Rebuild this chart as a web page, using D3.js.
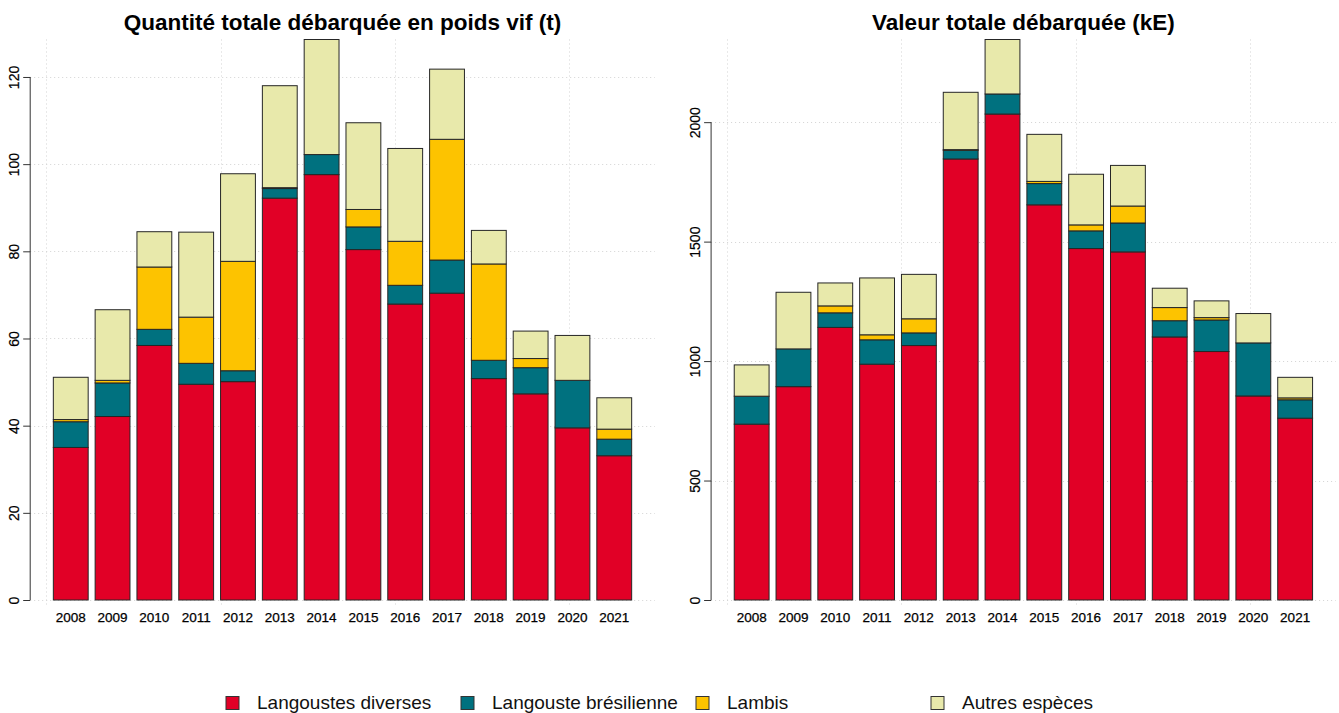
<!DOCTYPE html>
<html>
<head>
<meta charset="utf-8">
<script src="https://cdn.jsdelivr.net/npm/d3@7"></script>
<style>
  body { margin: 0; background: #fff; }
  svg { font-family: Arial, "Liberation Sans", sans-serif; }
</style>
</head>
<body>
<svg id="chart" width="1339" height="713"></svg>
<script>
// years on the x axis
const years = [2008, 2009, 2010, 2011, 2012, 2013, 2014, 2015, 2016, 2017, 2018, 2019, 2020, 2021];

// species (legend order = stacking order, bottom to top)
const species = ["Langoustes diverses", "Langouste brésilienne", "Lambis", "Autres espèces"];
const speciesColors = ["#E10026", "#00717F", "#FDC300", "#E8E9AB"];

// quantity landed, live weight (t)
const qtyLangoustes = [35.0, 42.1, 58.4, 49.5, 50.1, 92.2, 97.6, 80.4, 67.9, 70.4, 50.8, 47.3, 39.5, 33.1];
const qtyBresil     = [5.9, 7.7, 3.7, 4.8, 2.5, 2.2, 4.6, 5.2, 4.3, 7.6, 4.2, 6.0, 10.9, 3.8];
const qtyLambis     = [0.5, 0.6, 14.3, 10.6, 25.1, 0.2, 0, 4.0, 10.1, 27.7, 22.1, 2.1, 0, 2.3];
const qtyAutres     = [9.7, 16.2, 8.1, 19.5, 20.1, 23.4, 26.4, 19.9, 21.3, 16.1, 7.7, 6.3, 10.3, 7.2];

// value landed (kE)
const valLangoustes = [736, 893, 1141, 987, 1065, 1846, 2034, 1654, 1471, 1457, 1101, 1040, 854, 761];
const valBresil     = [117, 158, 61, 102, 53, 36, 84, 89, 74, 121, 68, 132, 222, 77];
const valLambis     = [0, 0, 29, 21, 59, 3, 0, 9, 25, 71, 55, 10, 0, 8];
const valAutres     = [131, 237, 96, 238, 186, 240, 228, 197, 212, 170, 81, 70, 123, 86];

// tick values
const qtyTicks = [0, 20, 40, 60, 80, 100, 120];
const valTicks = [0, 500, 1000, 1500, 2000];

const svg = d3.select("#chart");

function buildRows(series) {
  return years.map((y, i) => {
    const row = { year: y };
    species.forEach((s, k) => { row[s] = series[k][i]; });
    return row;
  });
}

function drawPanel(left, title, series, ticks) {
  const plotW = 624.6;
  const top = 39.5, zeroY = 600;

  const rows = buildRows(series);
  const stacked = d3.stack().keys(species)(rows);
  const maxTotal = d3.max(rows, r => d3.sum(species, s => r[s]));

  // barplot user units: bar i covers [0.2 + 1.2i, 1.2 + 1.2i]
  const x = d3.scaleLinear().domain([-0.464, 17.464]).range([left, left + plotW]);
  const y = d3.scaleLinear().domain([0, maxTotal]).range([zeroY, top]);

  const g = svg.append("g");

  // grid
  const grid = g.append("g")
    .attr("stroke", "#d3d3d3")
    .attr("stroke-width", 1)
    .attr("stroke-dasharray", "1,3");
  grid.selectAll("line.h")
    .data(ticks)
    .enter().append("line")
    .attr("x1", left).attr("x2", left + plotW)
    .attr("y1", d => Math.round(y(d)) + 0.5)
    .attr("y2", d => Math.round(y(d)) + 0.5);
  grid.selectAll("line.v")
    .data([0, 5, 10, 15])
    .enter().append("line")
    .attr("x1", d => Math.round(x(d)) + 0.5)
    .attr("x2", d => Math.round(x(d)) + 0.5)
    .attr("y1", top).attr("y2", 605);

  // stacked bars
  g.selectAll("g.layer")
    .data(stacked)
    .enter().append("g")
    .attr("fill", (d, k) => speciesColors[k])
    .selectAll("rect")
    .data(d => d)
    .enter().append("rect")
    .attr("x", (d, i) => x(0.2 + 1.2 * i))
    .attr("width", (d, i) => x(1.2 + 1.2 * i) - x(0.2 + 1.2 * i))
    .attr("y", d => y(d[1]))
    .attr("height", d => y(d[0]) - y(d[1]))
    .attr("stroke", "#262626")
    .attr("stroke-width", 1);

  // y axis
  const yAxis = g.append("g")
    .attr("transform", `translate(${left},0)`)
    .call(d3.axisLeft(y).tickValues(ticks).tickSize(7).tickFormat(d3.format("d")));
  yAxis.select(".domain").remove();
  yAxis.append("line")
    .attr("x1", 0).attr("x2", 0)
    .attr("y1", y(0)).attr("y2", y(ticks[ticks.length - 1]))
    .attr("stroke", "#333");
  yAxis.selectAll(".tick line").attr("stroke", "#333");
  yAxis.selectAll(".tick text")
    .attr("x", null).attr("dy", null)
    .attr("transform", "translate(-11,0) rotate(-90)")
    .attr("text-anchor", "middle")
    .style("font-size", "14px")
    .style("font-family", "Arial, 'Liberation Sans', sans-serif")
    .attr("fill", "#000")
    .attr("stroke", "#000")
    .attr("stroke-width", 0.2);

  // year labels
  g.selectAll("text.year")
    .data(years)
    .enter().append("text")
    .attr("x", (d, i) => x(0.7 + 1.2 * i))
    .attr("y", 622)
    .attr("text-anchor", "middle")
    .style("font-size", "13.5px")
    .attr("fill", "#000")
    .attr("stroke", "#000")
    .attr("stroke-width", 0.25)
    .text(d => d);

  // title
  g.append("text")
    .attr("x", left + plotW / 2)
    .attr("y", 30)
    .attr("text-anchor", "middle")
    .style("font-size", "22.5px")
    .style("font-weight", "bold")
    .attr("fill", "#000")
    .text(title);
}

drawPanel(30.2, "Quantité totale débarquée en poids vif (t)",
  [qtyLangoustes, qtyBresil, qtyLambis, qtyAutres], qtyTicks);
drawPanel(711.1, "Valeur totale débarquée (kE)",
  [valLangoustes, valBresil, valLambis, valAutres], valTicks);

// legend
const legendX = d3.scaleLinear().domain([0, 1]).range([226, 461]);
const legend = svg.append("g");
const item = legend.selectAll("g")
  .data(species)
  .enter().append("g")
  .attr("transform", (d, k) => `translate(${legendX(k)},0)`);
item.append("rect")
  .attr("x", 0).attr("y", 696.5)
  .attr("width", 13).attr("height", 13)
  .attr("fill", (d, k) => speciesColors[k])
  .attr("stroke", "#333");
item.append("text")
  .attr("x", 31).attr("y", 709)
  .style("font-size", "19px")
  .attr("fill", "#111")
  .text(d => d);
</script>
</body>
</html>
